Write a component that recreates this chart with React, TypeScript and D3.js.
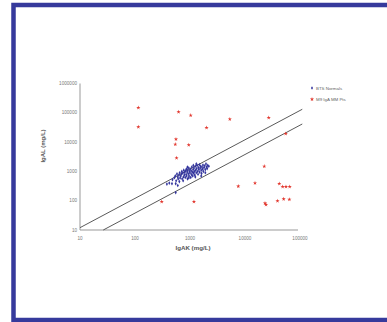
import React from "react";
import * as d3 from "d3";

const xTicks = [10, 100, 1000, 10000, 100000];
const yTicks = [10, 100, 1000, 10000, 100000, 1000000];
const xTitle = "IgAK (mg/L)";
const yTitle = "IgAL (mg/L)";
const legendLabels = ["BTS Normals", "M9 IgA MM Pts"];

// ratio lines: IgAL = ratio * IgAK
const upperRatio = 1.2;
const lowerRatio = 1 / 2.65;

const normals: [number, number][] = [
  [480, 520], [520, 610], [540, 700], [560, 480], [580, 820], [600, 640], [610, 550], [630, 760],
  [650, 900], [660, 600], [680, 700], [700, 820], [710, 1000], [720, 560], [740, 880], [760, 650],
  [770, 1100], [790, 760], [800, 940], [820, 620], [830, 1050], [850, 800], [860, 1200], [870, 700],
  [890, 950], [900, 560], [910, 1100], [930, 830], [950, 1300], [960, 700], [980, 1000], [1000, 880],
  [1010, 1200], [1030, 620], [1050, 1050], [1070, 780], [1080, 1400], [1100, 950], [1120, 700],
  [1140, 1150], [1160, 880], [1180, 1300], [1200, 1000], [1220, 760], [1250, 1500], [1270, 1100],
  [1300, 900], [1320, 1250], [1350, 1600], [1380, 1000], [1400, 800], [1420, 1350], [1450, 1150],
  [1480, 1700], [1500, 950], [1530, 1300], [1560, 1500], [1600, 1100], [1620, 850], [1650, 1400],
  [1700, 1200], [1720, 1650], [1750, 1000], [1800, 1350], [1850, 1550], [1900, 1150], [1950, 1800],
  [2000, 1400], [2050, 1250], [2100, 1600], [2200, 1500], [1300, 1800], [1150, 1600], [950, 600],
  [750, 480], [640, 450], [900, 1400], [1250, 650], [1600, 700], [1900, 900], [420, 400], [380, 370],
  [470, 380], [550, 380], [600, 330], [550, 190],
];

const patients: [number, number][] = [
  [115, 149000], [115, 33000], [620, 107000], [1030, 82000], [2000, 31000], [5300, 61000],
  [27000, 68000], [55000, 19400], [556, 12500], [540, 8400], [950, 7950], [570, 2900],
  [22400, 1490], [15200, 400], [7550, 310], [42000, 380], [48400, 300], [55600, 300],
  [65000, 300], [39000, 98], [50500, 114], [64000, 111], [23100, 82], [24100, 73],
  [1180, 92], [306, 92],
];

const blue = "#34369e";
const red = "#e2382f";

export default function App() {
  const x = d3.scaleLog().domain([10, 100000]).range([80, 300]);
  const y = d3.scaleLog().domain([10, 1000000]).range([230, 83.5]);
  const line = d3
    .line<[number, number]>()
    .x((d) => x(d[0]))
    .y((d) => y(d[1]));
  const upper: [number, number][] = [
    [10, 10 * upperRatio],
    [110000, 110000 * upperRatio],
  ];
  const lower: [number, number][] = [
    [10 / lowerRatio, 10],
    [110000, 110000 * lowerRatio],
  ];
  const diamond = d3.symbol().type(d3.symbolDiamond).size(4)()!;
  const star = d3.symbol().type(d3.symbolStar).size(5.5)()!;
  const font = "Arial, 'Liberation Sans', sans-serif";

  return (
    <svg
      width={387}
      height={322}
      style={{ position: "absolute", left: 0, top: 0 }}
      fontFamily={font}
    >
      <rect x={0} y={0} width={387} height={322} fill="#fff" />
      <rect
        x={13.5}
        y={5}
        width={420}
        height={315}
        fill="#fff"
        stroke="#363a9c"
        strokeWidth={4.5}
      />
      {/* axes */}
      <line x1={x(10)} x2={x(100000) - 2} y1={y(10)} y2={y(10)} stroke="#999" strokeWidth={1} />
      <line x1={x(10)} x2={x(10)} y1={y(10)} y2={y(1000000)} stroke="#999" strokeWidth={1} />
      {xTicks.map((t) => (
        <text
          key={"x" + t}
          x={x(t)}
          y={240}
          fontSize={4.6}
          fill="#777"
          textAnchor="middle"
        >
          {t}
        </text>
      ))}
      {yTicks.map((t) => (
        <text
          key={"y" + t}
          x={77}
          y={y(t) + 1.6}
          fontSize={4.6}
          fill="#777"
          textAnchor="end"
        >
          {t}
        </text>
      ))}
      <text x={193} y={250} fontSize={6.2} fontWeight="bold" fill="#555" textAnchor="middle">
        {xTitle}
      </text>
      <text
        transform="translate(45,146) rotate(-90)"
        fontSize={6}
        fontWeight="bold"
        fill="#555"
        textAnchor="middle"
      >
        {yTitle}
      </text>
      {/* ratio lines */}
      <path d={line(upper)!} stroke="#5a5a5a" strokeWidth={1} fill="none" />
      <path d={line(lower)!} stroke="#5a5a5a" strokeWidth={1} fill="none" />
      {/* points */}
      {normals.map((d, i) => (
        <path
          key={"n" + i}
          d={diamond}
          transform={`translate(${x(d[0])},${y(d[1])})`}
          fill={blue}
        />
      ))}
      {patients.map((d, i) => (
        <path
          key={"p" + i}
          d={star}
          transform={`translate(${x(d[0])},${y(d[1])})`}
          fill={red}
        />
      ))}
      {/* legend */}
      <path d={diamond} transform="translate(312,88)" fill={blue} />
      <text x={316} y={89.6} fontSize={4.4} fill="#666">
        {legendLabels[0]}
      </text>
      <path d={star} transform="translate(312,99.3)" fill={red} />
      <text x={316} y={100.9} fontSize={4.4} fill="#666">
        {legendLabels[1]}
      </text>
    </svg>
  );
}
